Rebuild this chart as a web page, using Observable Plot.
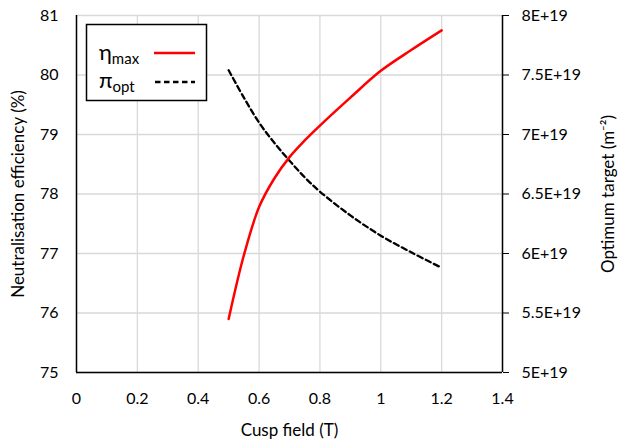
<!DOCTYPE html>
<html><head><meta charset="utf-8">
<script src="https://cdn.jsdelivr.net/npm/d3@7"></script>
<script src="https://cdn.jsdelivr.net/npm/@observablehq/plot@0.6"></script>
<style>
body{margin:0;background:#fff;}
#wrap{position:relative;width:618px;height:443px;font-family:Lato, sans-serif;}
#legend{position:absolute;left:0;top:0;pointer-events:none;}
</style></head><body><div id="wrap"></div>
<script>
const cuspField = [0.5, 0.55, 0.6, 0.65, 0.7, 0.75, 0.8, 0.9, 1.0, 1.1, 1.2];
const etaMax   = [75.90, 76.97, 77.78, 78.26, 78.62, 78.90, 79.15, 79.62, 80.07, 80.42, 80.75];
const piOpt    = [7.54, 7.31, 7.10, 6.93, 6.78, 6.64, 6.52, 6.32, 6.15, 6.01, 5.88]; // ×1E+19 m^-2
const xTicks  = [0, 0.2, 0.4, 0.6, 0.8, 1, 1.2, 1.4];
const yTicks  = [75, 76, 77, 78, 79, 80, 81];
const y2Ticks = [5, 5.5, 6, 6.5, 7, 7.5, 8]; // ×1E+19
const seriesNames = ["η", "π"];
const seriesSubs = ["max", "opt"];
const xTitle = "Cusp field (T)";
const yTitle = "Neutralisation efficiency (%)";
const y2Title = "Optimum target (m⁻²)";

const toLeft = v => 75 + (v - 5) * 2;        // map right-axis value to left scale
const toRight = d => 5 + (d - 75) / 2;

const redData = cuspField.map((x, i) => ({x, y: etaMax[i]}));
const blackData = cuspField.map((x, i) => ({x, y: toLeft(piOpt[i])}));

const plot = Plot.plot({
  width: 618, height: 443,
  marginLeft: 76, marginRight: 116, marginTop: 15, marginBottom: 71,
  style: {fontFamily: "Lato, sans-serif", fontSize: "16px", color: "#000", background: "#fff"},
  x: {domain: [0, 1.4]},
  y: {domain: [75, 81]},
  marks: [
    Plot.gridX(xTicks, {stroke: "#d9d9d9", strokeOpacity: 1, strokeWidth: 1.3}),
    Plot.gridY(yTicks, {stroke: "#d9d9d9", strokeOpacity: 1, strokeWidth: 1.3}),
    Plot.axisX(xTicks, {tickSize: 0, tickPadding: 20, tickFormat: d => String(d), label: null}),
    Plot.axisY(yTicks, {tickSize: 0, tickPadding: 18, tickFormat: d => String(d), label: null}),
    Plot.axisY(y2Ticks.map(toLeft), {anchor: "right", tickSize: 6, tickPadding: 13,
      tickFormat: d => `${toRight(d)}E+19`, label: null}),
    Plot.text([xTitle], {text: d => d, frameAnchor: "bottom", lineAnchor: "middle", dy: 58, fontSize: 17}),
    Plot.text([yTitle], {text: d => d, frameAnchor: "left", textAnchor: "middle", lineAnchor: "middle", dx: -58, rotate: -90, fontSize: 17}),
    Plot.text([y2Title], {text: d => d, frameAnchor: "right", textAnchor: "middle", lineAnchor: "middle", dx: 106, rotate: -90, fontSize: 17}),
    Plot.ruleX([0], {stroke: "#000", strokeWidth: 1.5}),
    Plot.ruleX([1.4], {stroke: "#000", strokeWidth: 1.5}),
    Plot.ruleY([75], {stroke: "#000", strokeWidth: 1.5}),
    Plot.line(blackData, {x: "x", y: "y", stroke: "#000", strokeWidth: 2.3, strokeDasharray: "5.5,3.5", curve: "catmull-rom"}),
    Plot.line(redData, {x: "x", y: "y", stroke: "#ff0000", strokeWidth: 2.5, curve: "catmull-rom"})
  ]
});
const wrap = document.getElementById("wrap");
wrap.appendChild(plot);

// legend overlay
const ns = "http://www.w3.org/2000/svg";
const lg = document.createElementNS(ns, "svg");
lg.setAttribute("id", "legend");
lg.setAttribute("width", 618); lg.setAttribute("height", 443);
lg.innerHTML = `
<rect x="86.5" y="24.5" width="120" height="76" fill="#fff" stroke="#000" stroke-width="1.5"/>
<text x="99" y="60" font-family="Lato, sans-serif" font-size="22">${seriesNames[0]}<tspan font-size="15" dy="4">${seriesSubs[0]}</tspan></text>
<line x1="154" x2="195" y1="53" y2="53" stroke="#ff0000" stroke-width="2.5"/>
<text x="99" y="88" font-family="Lato, sans-serif" font-size="22">${seriesNames[1]}<tspan font-size="15" dy="4">${seriesSubs[1]}</tspan></text>
<line x1="155" x2="195" y1="82" y2="82" stroke="#000" stroke-width="2.3" stroke-dasharray="5.5,3.5"/>`;
wrap.appendChild(lg);
</script></body></html>
